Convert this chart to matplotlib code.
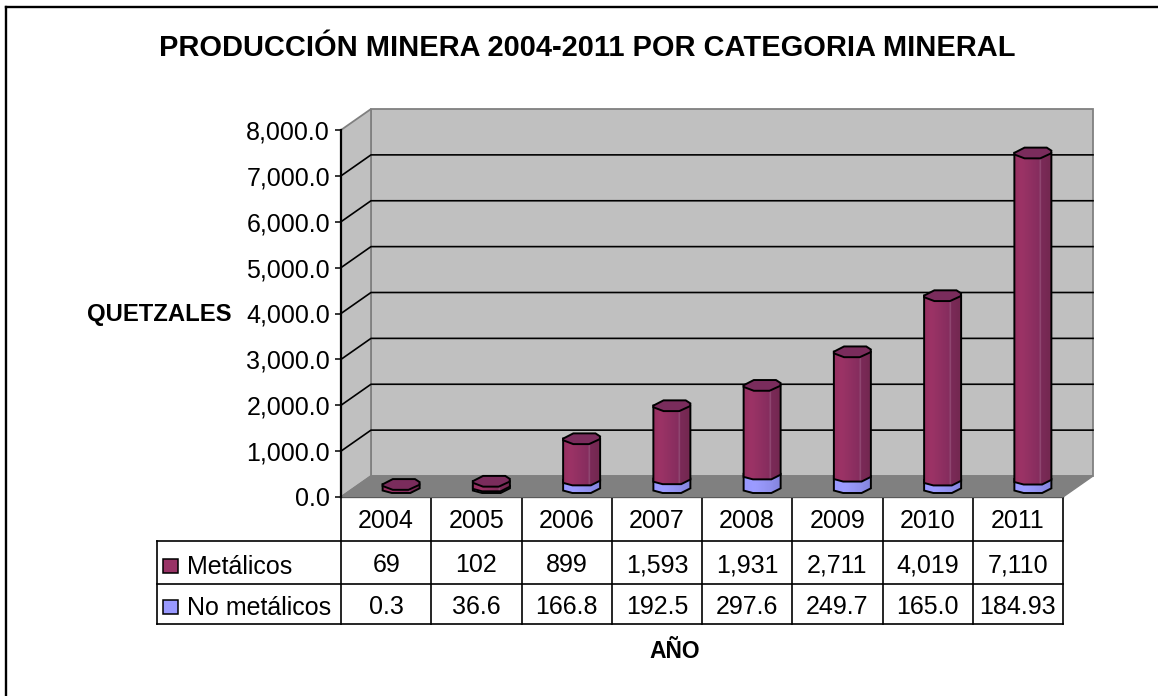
#!/usr/bin/env python3
import matplotlib
matplotlib.use('Agg')
import matplotlib.pyplot as plt
from matplotlib.colors import LinearSegmentedColormap
from matplotlib.patches import Polygon
import numpy as np

plt.rcParams['font.family'] = ['Liberation Sans', 'DejaVu Sans']

years = ['2004', '2005', '2006', '2007', '2008', '2009', '2010', '2011']
metalicos = [69, 102, 899, 1593, 1931, 2711, 4019, 7110]
no_metalicos = [0.3, 36.6, 166.8, 192.5, 297.6, 249.7, 165.0, 184.93]
metalicos_text = ['69', '102', '899', '1,593', '1,931', '2,711', '4,019', '7,110']
no_metalicos_text = ['0.3', '36.6', '166.8', '192.5', '297.6', '249.7', '165.0', '184.93']
y_ticks = [0, 1000, 2000, 3000, 4000, 5000, 6000, 7000, 8000]

W, H = 1158, 696
LEFT, RIGHT, TOP, BOTTOM = 341, 1063, 130, 497
PX_X = (RIGHT - LEFT) / 8
PX_Y = (BOTTOM - TOP) / 8000
DX = 30 / PX_X
DY = 21 / PX_Y
HALF_W = 18.5 / PX_X
CAP_H = 5.5 / PX_Y
BASE = DY / 2 - 1 / PX_Y

# the wobbly outline Excel gives its low-res cylinders
cap_x = np.array([-1, -0.45, 0.75, 1, 0.98, 0.4, -0.45, -1])
cap_y = np.array([0, 0.95, 0.95, 0.4, -0.1, -1, -1, -0.3])
low_x = np.array([1, 0.5, -0.5, -1])
low_y = np.array([-0.15, -1, -1, -0.55])

metal_cmap = LinearSegmentedColormap.from_list(
    'metal', [(0, '#953060'), (0.2, '#9C3366'), (0.69, '#852D5E'), (0.71, '#9A5A80'),
              (0.74, '#7B2A58'), (1, '#732850')])
nonmetal_cmap = LinearSegmentedColormap.from_list(
    'nonmetal', [(0, '#9999FF'), (0.3, '#9C9CFF'), (0.7, '#9090EE'), (1, '#8484DC')])
gradient = np.linspace(0, 1, 128).reshape(1, -1)

fig = plt.figure(figsize=(W / 100, H / 100), dpi=100)

# pixel overlay for frame, title and the data table
page = fig.add_axes([0, 0, 1, 1], zorder=0)
page.set_xlim(0, W)
page.set_ylim(H, 0)
page.axis('off')

ax = fig.add_axes([LEFT / W, 1 - BOTTOM / H, (RIGHT - LEFT) / W, (BOTTOM - TOP) / H], zorder=1)
ax.patch.set_alpha(0)
ax.set_xlim(0, 8)
ax.set_ylim(0, 8000)
ax.set_autoscale_on(False)

# walls and floor
ax.add_patch(Polygon([(DX, DY), (8 + DX, DY), (8 + DX, 8000 + DY), (DX, 8000 + DY)],
                     fc='#C0C0C0', ec='#808080', lw=1.3, clip_on=False, zorder=1))
ax.add_patch(Polygon([(0, 0), (DX, DY), (DX, 8000 + DY), (0, 8000)],
                     fc='#C0C0C0', ec='#808080', lw=1.3, clip_on=False, zorder=1))
ax.add_patch(Polygon([(0, 0), (8, 0), (8 + DX, DY), (DX, DY)],
                     fc='#808080', ec='#808080', lw=1.0, clip_on=False, zorder=1))

for v in y_ticks[1:-1]:
    ax.plot([0, DX, 8 + DX], [v, v + DY, v + DY], color='black', lw=1.2, clip_on=False, zorder=2)


def draw_segment(cx, base, top, cmap, z):
    # body: straight sides, wobbly lower outline along the bottom
    bottom = [(cx + HALF_W * x, base + CAP_H * y) for x, y in zip(low_x, low_y)]
    outline = bottom + [(cx - HALF_W, top), (cx + HALF_W, top)]
    im = ax.imshow(gradient, cmap=cmap, aspect='auto', zorder=z, interpolation='bilinear',
                   extent=(cx - HALF_W, cx + HALF_W, base - CAP_H, top))
    im.set_clip_path(Polygon(outline, closed=True, transform=ax.transData))
    ax.add_patch(Polygon(outline, closed=True, fc='none', ec='black', lw=1.4,
                         clip_on=False, zorder=z + 0.1))


for i, (m, n) in enumerate(zip(metalicos, no_metalicos)):
    cx = i + 0.5 + DX / 2
    z = 3 + i
    if n > 5:
        draw_segment(cx, BASE, BASE + n, nonmetal_cmap, z)
    draw_segment(cx, BASE + n, BASE + n + m, metal_cmap, z + 0.2)
    cap = np.column_stack([cx + HALF_W * cap_x, BASE + n + m + CAP_H * cap_y])
    ax.add_patch(Polygon(cap, closed=True, fc='#7A2C5C', ec='black', lw=1.4,
                         clip_on=False, zorder=z + 0.5))

ax.set_xticks([])
ax.set_yticks(y_ticks)
ax.set_yticklabels([f'{v:,.1f}' for v in y_ticks], fontsize=18)
ax.tick_params(axis='y', length=4.3, width=1.1, pad=3.6)
for side in ['top', 'right', 'bottom']:
    ax.spines[side].set_visible(False)
ax.spines['left'].set_linewidth(1.6)

# frame is only top and left, the crop cuts the rest
page.plot([6, W], [7, 7], color='black', lw=1.7)
page.plot([6, 6], [7, H], color='black', lw=1.7)

page.text(587, 48, 'PRODUCCIÓN MINERA 2004-2011 POR CATEGORIA MINERAL', fontsize=20.9,
          fontweight='bold', ha='center', va='center')
page.text(159, 314, 'QUETZALES', fontsize=17.2, fontweight='bold', ha='center', va='center')
page.text(675, 651, 'AÑO', fontsize=16.5, fontweight='bold', ha='center', va='center')

# data table
col_x = np.linspace(LEFT, RIGHT, 9)
row_y = [497, 541, 584, 624]
TABLE_LEFT = 157
page.plot([LEFT, RIGHT], [row_y[0], row_y[0]], color='black', lw=1.6)
for y in row_y[1:]:
    page.plot([TABLE_LEFT, RIGHT], [y, y], color='black', lw=1.2)
page.plot([TABLE_LEFT, TABLE_LEFT], [row_y[1], row_y[3]], color='black', lw=1.2)
for x in col_x:
    page.plot([x, x], [row_y[0], row_y[3]], color='black', lw=1.2)

for i, x in enumerate((col_x[:-1] + col_x[1:]) / 2):
    page.text(x, 521, years[i], fontsize=18, ha='center', va='center')
    page.text(x, 565, metalicos_text[i], fontsize=18, ha='center', va='center')
    page.text(x, 607, no_metalicos_text[i], fontsize=18, ha='center', va='center')

page.add_patch(plt.Rectangle((163, 559), 15, 14, fc='#993366', ec='black', lw=1.1))
page.add_patch(plt.Rectangle((163, 600), 15, 14, fc='#9999FF', ec='black', lw=1.1))
page.text(187, 567, 'Metálicos', fontsize=18, ha='left', va='center')
page.text(187, 608, 'No metálicos', fontsize=18, ha='left', va='center')

plt.savefig('out.png', dpi=100)
